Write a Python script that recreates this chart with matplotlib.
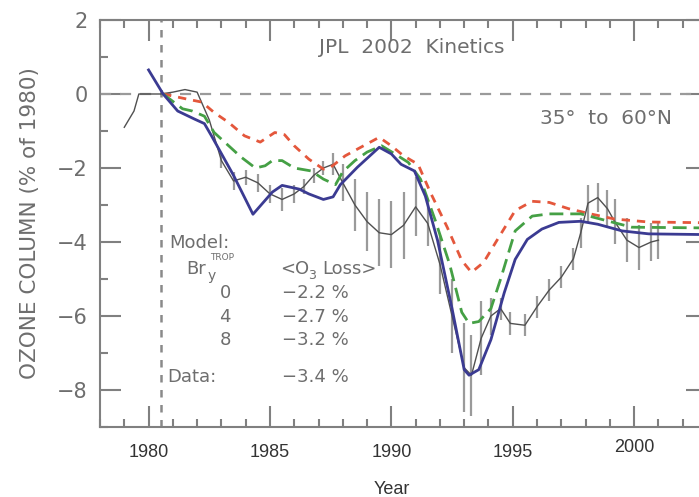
import matplotlib
matplotlib.use("Agg")
import matplotlib.pyplot as plt
from matplotlib.ticker import MultipleLocator

# Modelo Bry=8 (linha azul continua)
anos_b8 = [1980.0, 1980.6, 1981.2, 1981.9, 1982.3, 1982.6, 1983.5, 1984.3, 1985.1, 1985.5,
           1986.2, 1986.6, 1987.2, 1987.6, 1987.9, 1988.6, 1989.5, 1990.0, 1990.4, 1990.95,
           1991.4, 1991.9, 1992.5, 1993.0, 1993.2, 1993.6, 1994.1, 1994.65, 1995.1, 1995.6,
           1996.2, 1996.9, 1997.8, 1998.5, 1999.5, 2000.6, 2003.0]
ozonio_b8 = [0.65, 0.0, -0.46, -0.68, -0.8, -1.14, -2.2, -3.25, -2.65, -2.47,
             -2.57, -2.7, -2.85, -2.78, -2.45, -1.98, -1.44, -1.62, -1.9, -2.08,
             -2.76, -3.95, -5.8, -7.45, -7.6, -7.45, -6.64, -5.37, -4.47, -3.93,
             -3.65, -3.47, -3.44, -3.52, -3.7, -3.78, -3.8]

# Modelo Bry=4 (verde tracejado)
anos_b4 = [1980.6, 1981.4, 1981.8, 1982.3, 1982.7, 1983.3, 1983.8, 1984.4, 1984.8, 1985.1,
           1985.5, 1986.0, 1986.7, 1987.2, 1987.7, 1988.0, 1988.5, 1989.0, 1989.6, 1990.1,
           1990.7, 1991.2, 1991.8, 1992.4, 1992.9, 1993.2, 1993.6, 1994.1, 1994.5, 1995.1,
           1995.8, 1996.5, 1997.8, 1998.9, 1999.9, 2003.0]
ozonio_b4 = [0.0, -0.4, -0.46, -0.6, -1.04, -1.4, -1.7, -2.0, -1.94, -1.8,
             -1.8, -2.0, -2.08, -2.3, -2.45, -2.1, -1.8, -1.57, -1.4, -1.6,
             -1.85, -2.3, -3.4, -4.6, -5.9, -6.2, -6.15, -5.8, -5.0, -3.7,
             -3.3, -3.24, -3.24, -3.43, -3.6, -3.62]

# Modelo Bry=0 (vermelho tracejado)
anos_b0 = [1980.6, 1981.6, 1982.2, 1982.7, 1983.3, 1983.95, 1984.6, 1985.2, 1985.6, 1986.0,
           1986.6, 1987.2, 1987.5, 1988.1, 1988.6, 1989.5, 1990.0, 1990.5, 1991.1, 1991.6,
           1992.3, 1992.9, 1993.3, 1993.8, 1994.4, 1995.1, 1995.8, 1996.5, 1997.3, 1998.2,
           1999.2, 2000.6, 2003.0]
ozonio_b0 = [0.0, -0.14, -0.22, -0.5, -0.77, -1.13, -1.3, -1.04, -1.1, -1.4,
             -1.76, -2.03, -1.98, -1.67, -1.49, -1.17, -1.4, -1.67, -1.9, -2.65,
             -3.6, -4.5, -4.82, -4.55, -3.9, -3.15, -2.9, -2.93, -3.1, -3.24,
             -3.38, -3.46, -3.48]

# Dados observados com barras de erro
anos_obs = [1979.0, 1979.4, 1979.6, 1980.0, 1980.5, 1981.0, 1981.5, 1982.0, 1982.5, 1983.0,
            1983.5, 1984.0, 1984.5, 1985.0, 1985.5, 1986.0, 1986.4, 1986.8, 1987.2, 1987.6,
            1988.0, 1988.5, 1989.0, 1989.5, 1990.0, 1990.5, 1991.0, 1991.5, 1992.0, 1992.5,
            1993.0, 1993.3, 1993.7, 1994.1, 1994.5, 1994.9, 1995.5, 1996.0, 1996.5, 1997.0,
            1997.5, 1997.8, 1998.1, 1998.5, 1998.9, 1999.2, 1999.7, 2000.2, 2000.7, 2001.0]
ozonio_obs = [-0.9, -0.46, 0.0, 0.0, 0.0, 0.05, 0.12, 0.05, -0.7, -1.8,
              -2.35, -2.25, -2.4, -2.7, -2.85, -2.7, -2.5, -2.2, -2.0, -1.9,
              -2.4, -3.0, -3.45, -3.75, -3.8, -3.55, -3.05, -3.5, -4.6, -6.0,
              -7.4, -7.6, -6.6, -6.0, -5.8, -6.2, -6.25, -5.75, -5.3, -4.95,
              -4.45, -3.75, -2.95, -2.8, -3.1, -3.45, -3.95, -4.15, -4.0, -3.95]
erro_obs = [0, 0, 0, 0, 0, 0, 0, 0, 0, 0.2,
            0.25, 0.2, 0.25, 0.25, 0.3, 0.25, 0.2, 0.2, 0.2, 0.3,
            0.5, 0.7, 0.8, 0.9, 0.9, 0.9, 0.8, 0.6, 0.8, 1.0,
            1.2, 1.1, 1.0, 0.5, 0.3, 0.3, 0.3, 0.3, 0.3, 0.3,
            0.3, 0.4, 0.5, 0.4, 0.5, 0.6, 0.6, 0.6, 0.5, 0.5]

cinza = "#6e6e6e"

fig = plt.figure(figsize=(6.99, 4.97), dpi=100)
ax = fig.add_axes([100 / 699, 70 / 497, 607 / 699, 407 / 497])
ax.set_xlim(1978, 2003)
ax.set_ylim(-9, 2)

for lado in ax.spines.values():
    lado.set_color("#808080")
    lado.set_linewidth(1.5)

ax.xaxis.set_major_locator(MultipleLocator(5))
ax.xaxis.set_minor_locator(MultipleLocator(1))
ax.yaxis.set_major_locator(MultipleLocator(2))
ax.yaxis.set_minor_locator(MultipleLocator(1))
ax.tick_params(which="both", direction="in", top=True, right=True, color="#808080")
ax.tick_params(which="major", length=15, width=1.5)
ax.tick_params(which="minor", length=6, width=1.5)
ax.tick_params(axis="x", labelsize=13, labelcolor="#333333", pad=12)
ax.tick_params(axis="y", labelsize=15, labelcolor=cinza, pad=9)
for lbl in ax.get_xticklabels():
    lbl.set_family("Liberation Sans")

# linhas de referencia
ax.axhline(0, color="#9a9a9a", lw=1.6, ls=(0, (5, 4)))
ax.axvline(1980.5, color="#8a8a8a", lw=1.8, ls=(0, (3, 3)))

ax.errorbar(anos_obs, ozonio_obs, yerr=erro_obs, fmt="none", ecolor="#9a9a9a", elinewidth=1.6, capsize=0)
ax.plot(anos_obs, ozonio_obs, color="#505050", lw=1.0)
ax.plot(anos_b0, ozonio_b0, color="#e4573c", lw=2.0, ls=(0, (3, 2.5)))
ax.plot(anos_b4, ozonio_b4, color="#45a045", lw=2.0, ls=(0, (5, 2.5)))
ax.plot(anos_b8, ozonio_b8, color="#3b3b92", lw=2.0)

# textos do painel
fs = 13
ax.text(1990.85, 1.25, "JPL  2002  Kinetics", color=cinza, fontsize=14.5, ha="center", va="center")
ax.text(1998.85, -0.65, "35°  to  60°N", color=cinza, fontsize=14.5, ha="center", va="center")
ax.text(1980.85, -4.02, "Model:", color=cinza, fontsize=fs, va="center")
ax.text(1981.55, -4.72, "Br", color=cinza, fontsize=fs, va="center")
ax.text(1982.45, -4.92, "y", color=cinza, fontsize=10, va="center")
ax.text(1982.55, -4.42, "TROP", color=cinza, fontsize=6.5, va="center")
ax.text(1985.4, -4.72, "<O", color=cinza, fontsize=fs, va="center")
ax.text(1986.55, -4.9, "3", color=cinza, fontsize=9, va="center")
ax.text(1987.15, -4.72, "Loss>", color=cinza, fontsize=fs, va="center")
linhas = [("0", "\u22122.2 %", -5.37), ("4", "\u22122.7 %", -6.02), ("8", "\u22123.2 %", -6.65)]
for bry, perda, yy in linhas:
    ax.text(1983.15, yy, bry, color=cinza, fontsize=fs, ha="center", va="center")
    ax.text(1985.5, yy, perda, color=cinza, fontsize=fs, va="center")
ax.text(1980.75, -7.65, "Data:", color=cinza, fontsize=fs, va="center")
ax.text(1985.5, -7.65, "\u22123.4 %", color=cinza, fontsize=fs, va="center")

ax.set_ylabel("OZONE COLUMN (% of 1980)", color=cinza, fontsize=15.5, labelpad=12)
ax.set_xlabel("Year", color="#333333", fontsize=13, family="Liberation Sans",
              x=(1990 - 1978) / 25, labelpad=15)

# o rotulo 2000 fica um pouco mais alto no original
fig.canvas.draw()
for tick in ax.xaxis.get_major_ticks():
    if abs(tick.get_loc() - 2000) < 0.1:
        tick.label1.set_y(0.012)

fig.savefig("out.png", dpi=100)
